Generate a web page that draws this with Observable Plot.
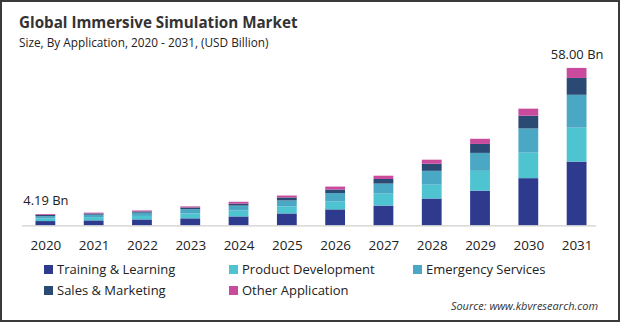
<!DOCTYPE html>
<html>
<head>
<meta charset="utf-8">
<script src="https://cdn.jsdelivr.net/npm/d3@7"></script>
<script src="https://cdn.jsdelivr.net/npm/@observablehq/plot@0.6"></script>
<style>
  html, body { margin: 0; padding: 0; background: #fff; }
  #card { position: relative; width: 620px; height: 322px; box-sizing: border-box; border: 2px solid #3a3a3a; overflow: hidden; font-family: "Open Sans", "Noto Sans", sans-serif; color: #262626; }
  #title { position: absolute; left: 17px; top: 10px; font-size: 15.2px; font-weight: 700; white-space: nowrap; color: #333; }
  #subtitle { position: absolute; left: 17px; top: 32px; font-size: 11.8px; white-space: nowrap; color: #222; }
  #chart { position: absolute; left: -2px; top: 38px; }
  #chart svg { overflow: visible; }
  .lg { position: absolute; font-size: 13px; white-space: nowrap; display: flex; align-items: center; color: #222; }
  .lg span.sw { display: inline-block; width: 9px; height: 9px; margin-right: 4px; }
  #source { position: absolute; right: 20px; top: 296px; font-size: 11px; font-style: italic; color: #333; white-space: nowrap; }
</style>
</head>
<body>
<div id="card">
  <div id="title">Global Immersive Simulation Market</div>
  <div id="subtitle">Size, By Application, 2020 - 2031, (USD Billion)</div>
  <div id="chart"></div>
  <div id="legend"></div>
  <div id="source">Source: www.kbvresearch.com</div>
</div>
<script>
// ---- data ----
const years = ["2020","2021","2022","2023","2024","2025","2026","2027","2028","2029","2030","2031"];
const seriesNames = ["Training & Learning","Product Development","Emergency Services","Sales & Marketing","Other Application"];
const seriesColors = ["#2d3a8e","#4ec4d0","#4aa8c4","#2b4a73","#c84b9e"];
const training    = [1.60, 1.85, 2.20, 2.60, 3.30, 4.40, 5.90, 7.30, 9.90, 12.8, 17.4, 23.5];
const product     = [1.00, 1.20, 1.30, 1.80, 2.20, 2.60, 2.90, 4.40, 5.10, 7.30, 9.40, 12.5];
const emergency   = [0.80, 0.90, 1.20, 1.60, 1.80, 2.20, 3.10, 3.70, 5.10, 6.60, 8.90, 12.1];
const sales       = [0.50, 0.45, 0.45, 0.60, 0.70, 1.10, 1.30, 1.70, 2.60, 3.30, 4.70, 6.20];
const other       = [0.29, 0.30, 0.35, 0.40, 0.70, 0.70, 1.10, 1.20, 1.50, 1.90, 2.60, 3.70];
const labelYears  = ["2020", "2031"];
const labelTexts  = ["4.19 Bn", "58.00 Bn"];

const seriesValues = [training, product, emergency, sales, other];
const rows = years.flatMap((yr, i) => seriesNames.map((s, j) => ({year: yr, series: s, value: seriesValues[j][i]})));
const totals = years.map((yr, i) => d3.sum(seriesValues, arr => arr[i]));
const labelRows = labelYears.map((yr, k) => ({year: yr, total: totals[years.indexOf(yr)], label: labelTexts[k]}));

const chart = Plot.plot({
  width: 620,
  height: 222,
  marginLeft: 22,
  marginRight: 22,
  marginTop: 28,
  marginBottom: 36,
  style: {fontFamily: "'Open Sans', 'Noto Sans', sans-serif", background: "transparent", color: "#222"},
  x: {domain: years, range: [7, 617], padding: 0.59, round: false, label: null},
  y: {domain: [0, 58], range: [186, 28], axis: null},
  color: {domain: seriesNames, range: seriesColors},
  marks: [
    Plot.barY(rows, {x: "year", y: "value", fill: "series", order: seriesNames}),
    Plot.ruleY([0], {stroke: "#cfcfcf", strokeWidth: 1.2}),
    Plot.axisX({tickSize: 0, tickPadding: 15, fontSize: 13.5, fill: "#222"}),
    Plot.text(labelRows, {x: "year", y: "total", text: "label", dy: -14, fontSize: 13, fill: "#222"})
  ]
});
document.getElementById("chart").appendChild(chart);

// legend
const legendPos = [[42, 268], [227, 268], [411, 268], [42, 289], [227, 289]];
const legend = document.getElementById("legend");
seriesNames.forEach((name, i) => {
  const d = document.createElement("div");
  d.className = "lg";
  d.style.left = legendPos[i][0] + "px";
  d.style.top = (legendPos[i][1] - 11) + "px";
  d.style.height = "20px";
  d.innerHTML = `<span class="sw" style="background:${seriesColors[i]}"></span>${name}`;
  legend.appendChild(d);
});
</script>
</body>
</html>
